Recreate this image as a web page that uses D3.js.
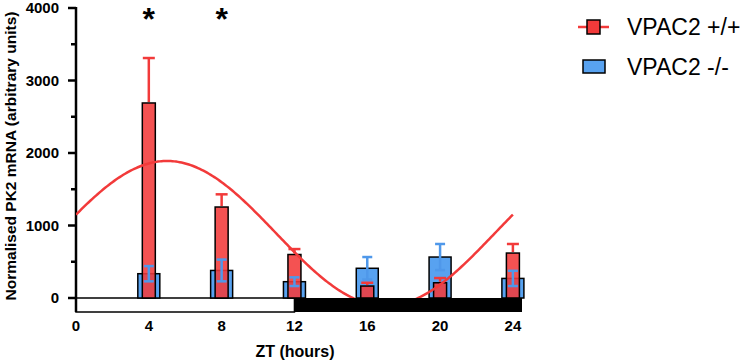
<!DOCTYPE html>
<html>
<head>
<meta charset="utf-8">
<script src="https://cdn.jsdelivr.net/npm/d3@7"></script>
<style>
  body { margin: 0; background: #fff; }
  text { font-family: "Liberation Sans", Arial, sans-serif; }
</style>
</head>
<body>
<script>
// PK2 mRNA across the day, VPAC2 +/+ vs -/-

const outerWidth = 747;
const outerHeight = 362;

// data
const zt = [4, 8, 12, 16, 20, 24];
const wtMean = [2690, 1255, 600, 165, 210, 620];   // VPAC2 +/+
const wtErr  = [620, 175, 75, 45, 65, 125];
const koMean = [335, 380, 225, 410, 565, 270];     // VPAC2 -/-
const koErr  = [105, 150, 60, 155, 180, 105];
const sigZt = [4, 8];
const yTicks = [0, 1000, 2000, 3000, 4000];
const yMinor = [500, 1500, 2500, 3500];
const xTicks = [0, 4, 8, 12, 16, 20, 24];
// cosinor fit for +/+ : mesor, amplitude, acrophase (h), period (h)
const fitMesor = 891, fitAmp = 999, fitPhase = 5, fitPeriod = 24;

const red = "#f23a3a";
const blue = "#58a2f0";
const blueErr = "#4f98ea";

const svg = d3.select("body").append("svg")
  .attr("width", outerWidth)
  .attr("height", outerHeight);

const x = d3.scaleLinear().domain([0, 24.5]).range([76, 522]);
const y = d3.scaleLinear().domain([0, 4000]).range([298, 8]);
const barBottom = 312;   // bottom of light/dark bar

// light/dark bar under the zero line
svg.append("rect")
  .attr("x", x(0)).attr("y", y(0))
  .attr("width", x(12) - x(0)).attr("height", barBottom - y(0))
  .attr("fill", "#fff").attr("stroke", "#000").attr("stroke-width", 1.5);
svg.append("rect")
  .attr("x", x(12)).attr("y", y(0))
  .attr("width", x(24.5) - x(12)).attr("height", barBottom - y(0))
  .attr("fill", "#000");

// y axis
const yAxis = svg.append("g").attr("transform", `translate(${x(0)},0)`);
yAxis.append("line")
  .attr("x1", 0).attr("x2", 0).attr("y1", y(4000) - 1).attr("y2", barBottom)
  .attr("stroke", "#000").attr("stroke-width", 2.5);
yAxis.selectAll(".major").data(yTicks).join("line")
  .attr("x1", -8).attr("x2", 0).attr("y1", d => y(d)).attr("y2", d => y(d))
  .attr("stroke", "#000").attr("stroke-width", 2.5);
yAxis.selectAll(".minor").data(yMinor).join("line")
  .attr("class", "minor")
  .attr("x1", -5).attr("x2", 0).attr("y1", d => y(d)).attr("y2", d => y(d))
  .attr("stroke", "#000").attr("stroke-width", 2.5);
yAxis.selectAll(".ylab").data(yTicks).join("text")
  .attr("class", "ylab")
  .attr("x", -17).attr("y", d => y(d)).attr("dy", "0.36em")
  .style("text-anchor", "end")
  .style("font-size", "15px").style("font-weight", "bold")
  .text(d => d);

svg.append("text")
  .attr("transform", `translate(16,156) rotate(-90)`)
  .style("text-anchor", "middle")
  .style("font-size", "15.5px").style("font-weight", "bold")
  .text("Normalised PK2 mRNA (arbitrary units)");

// x tick labels
svg.selectAll(".xlab").data(xTicks).join("text")
  .attr("class", "xlab")
  .attr("x", d => x(d)).attr("y", 331)
  .style("text-anchor", "middle")
  .style("font-size", "15px").style("font-weight", "bold")
  .text(d => d);

svg.append("text")
  .attr("x", 295).attr("y", 357)
  .style("text-anchor", "middle")
  .style("font-size", "16px").style("font-weight", "bold")
  .text("ZT (hours)");

// bars
const koW = 22, wtW = 13;
const ko = zt.map((t, i) => ({t: t, m: koMean[i], e: koErr[i]}));
const wt = zt.map((t, i) => ({t: t, m: wtMean[i], e: wtErr[i]}));

svg.append("g").selectAll("rect").data(ko).join("rect")
  .attr("x", d => x(d.t) - koW / 2).attr("y", d => y(d.m))
  .attr("width", koW).attr("height", d => y(0) - y(d.m))
  .attr("fill", blue).attr("stroke", "#000").attr("stroke-width", 1.5);

svg.append("g").selectAll("rect").data(wt).join("rect")
  .attr("x", d => x(d.t) - wtW / 2).attr("y", d => y(d.m))
  .attr("width", wtW).attr("height", d => y(0) - y(d.m))
  .attr("fill", red).attr("fill-opacity", 0.88)
  .attr("stroke", "#000").attr("stroke-width", 1.5);

// error bars: +/+ upward only, -/- both ways
const wtErrG = svg.append("g").attr("stroke", red).attr("stroke-width", 2.5);
wtErrG.selectAll(".v").data(wt).join("line")
  .attr("x1", d => x(d.t)).attr("x2", d => x(d.t))
  .attr("y1", d => y(d.m) - 1).attr("y2", d => y(d.m + d.e));
wtErrG.selectAll(".c").data(wt).join("line")
  .attr("class", "c")
  .attr("x1", d => x(d.t) - 6).attr("x2", d => x(d.t) + 6)
  .attr("y1", d => y(d.m + d.e)).attr("y2", d => y(d.m + d.e));

const koErrG = svg.append("g").attr("stroke", blueErr).attr("stroke-width", 2.5);
koErrG.selectAll(".v").data(ko).join("line")
  .attr("x1", d => x(d.t)).attr("x2", d => x(d.t))
  .attr("y1", d => y(Math.max(d.m - d.e, 0))).attr("y2", d => y(d.m + d.e));
koErrG.selectAll(".c1").data(ko).join("line")
  .attr("class", "c1")
  .attr("x1", d => x(d.t) - 5).attr("x2", d => x(d.t) + 5)
  .attr("y1", d => y(d.m + d.e)).attr("y2", d => y(d.m + d.e));
koErrG.selectAll(".c2").data(ko).join("line")
  .attr("class", "c2")
  .attr("x1", d => x(d.t) - 5).attr("x2", d => x(d.t) + 5)
  .attr("y1", d => y(Math.max(d.m - d.e, 0))).attr("y2", d => y(Math.max(d.m - d.e, 0)));

// fitted cosine for +/+, clipped at zero
svg.append("clipPath").attr("id", "plotClip")
  .append("rect").attr("x", x(0)).attr("y", 0)
  .attr("width", x(24.5) - x(0)).attr("height", y(0));

const fitPts = d3.range(0, 24.01, 0.1).map(t => ({t: t,
  v: fitMesor + fitAmp * Math.cos(2 * Math.PI * (t - fitPhase) / fitPeriod)}));

svg.append("path")
  .datum(fitPts)
  .attr("clip-path", "url(#plotClip)")
  .attr("fill", "none").attr("stroke", red).attr("stroke-width", 2.5)
  .attr("d", d3.line().x(d => x(d.t)).y(d => y(d.v)));

// significance marks
svg.selectAll(".sig").data(sigZt).join("text")
  .attr("class", "sig")
  .attr("x", d => x(d)).attr("y", 30)
  .style("text-anchor", "middle")
  .style("font-size", "32px").style("font-weight", "bold")
  .text("*");

// legend
const legend = svg.append("g");
legend.append("line")
  .attr("x1", 578).attr("x2", 609).attr("y1", 27).attr("y2", 27)
  .attr("stroke", red).attr("stroke-width", 2.5);
legend.append("rect")
  .attr("x", 587).attr("y", 20).attr("width", 13).attr("height", 14)
  .attr("fill", red).attr("stroke", "#000").attr("stroke-width", 1.5);
legend.append("rect")
  .attr("x", 583).attr("y", 60).attr("width", 22).attr("height", 13)
  .attr("fill", blue).attr("stroke", "#000").attr("stroke-width", 1.5);
legend.append("text")
  .attr("x", 627).attr("y", 35)
  .style("font-size", "23px")
  .text("VPAC2 +/+");
legend.append("text")
  .attr("x", 627).attr("y", 75)
  .style("font-size", "23px")
  .text("VPAC2 -/-");
</script>
</body>
</html>
